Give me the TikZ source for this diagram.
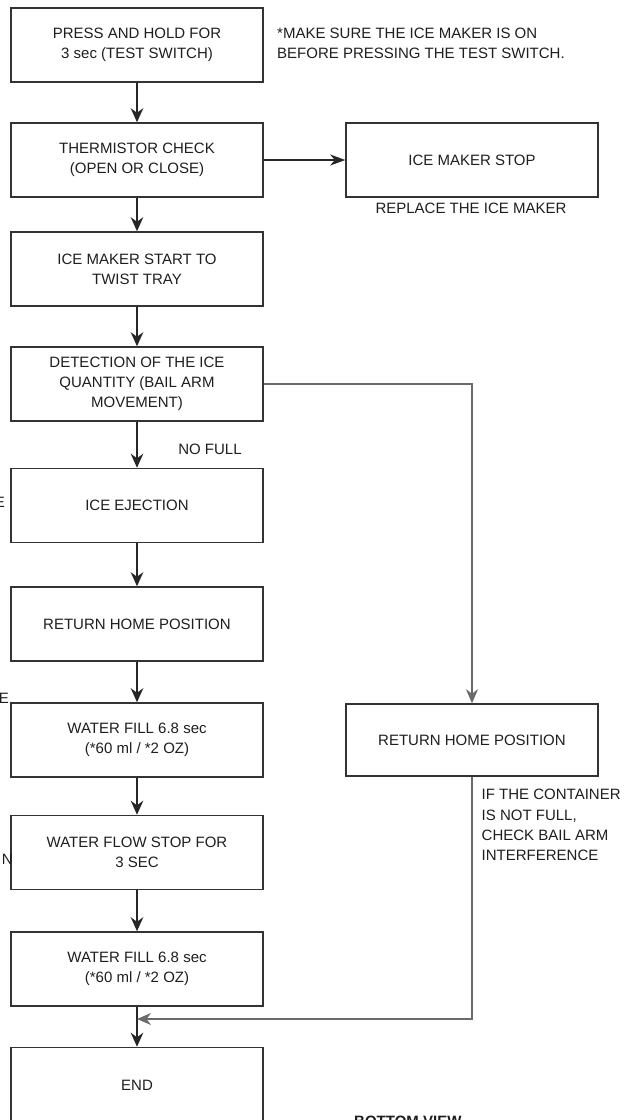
\documentclass[tikz,border=0pt]{standalone}
\usepackage{fontspec}
\setmainfont{Liberation Sans}
\usetikzlibrary{arrows.meta}
\definecolor{boxc}{HTML}{333333}
\definecolor{arrc}{HTML}{262626}
\definecolor{loopc}{HTML}{6A6A6A}
\definecolor{txtc}{HTML}{1E1E1E}
\newcommand{\txtf}{\fontsize{15}{20.3}\selectfont}
\begin{document}
\begin{tikzpicture}[x=1pt,y=-1pt,
  stepbox/.style={draw=boxc, line width=1.5pt, minimum width=252pt, minimum height=74pt,
    inner sep=0pt, align=center, font=\txtf, text=txtc},
  flow/.style={draw=arrc, line width=1.8pt, -{Stealth[length=14pt,width=12.5pt,inset=4.5pt]}},
  side/.style={draw=arrc, line width=1.2pt, -{Stealth[length=15pt,width=11pt,inset=4.5pt]}},
  loopline/.style={draw=loopc, line width=1.3pt, -{Stealth[length=14pt,width=12pt,inset=4.5pt]}},
  note/.style={font=\txtf, text=txtc, inner sep=0pt}]
\useasboundingbox (0,0) rectangle (624,1120);
\fill[white] (0,0) rectangle (624,1120);

% left column
\node[stepbox] (b1) at (137,45) {PRESS AND HOLD FOR\\3 sec (TEST SWITCH)};
\node[stepbox] (b2) at (137,160) {THERMISTOR CHECK\\(OPEN OR CLOSE)};
\node[stepbox] (b3) at (137,269) {ICE MAKER START TO\\TWIST TRAY};
\node[stepbox] (b4) at (137,384) {DETECTION OF THE ICE\\QUANTITY (BAIL ARM\\MOVEMENT)};
\node[stepbox] (b5) at (137,505.5) {ICE EJECTION};
\node[stepbox] (b6) at (137,624) {RETURN HOME POSITION};
\node[stepbox] (b7) at (137,740) {WATER FILL 6.8 sec\\(*60 ml / *2 OZ)};
\node[stepbox] (b8) at (137,852.5) {WATER FLOW STOP FOR\\3 SEC};
\node[stepbox] (b9) at (137,969) {WATER FILL 6.8 sec\\(*60 ml / *2 OZ)};
\node[stepbox, minimum height=75pt] (b10) at (137,1085) {END};

% right column
\node[stepbox] (r1) at (472,160) {ICE MAKER STOP};
\node[stepbox, minimum height=72pt] (r2) at (472,740) {RETURN HOME POSITION};

% texts
\node[note, anchor=west, align=left] (n1) at (277,43) {*MAKE SURE THE ICE MAKER IS ON\\BEFORE PRESSING THE TEST SWITCH.};
\node[note] (n2) at (471,208) {REPLACE THE ICE MAKER};
\node[note] (n3) at (210,449) {NO FULL};
\node[note, anchor=west, align=left] (n4) at (481.5,825) {IF THE CONTAINER\\IS NOT FULL,\\CHECK BAIL ARM\\INTERFERENCE};
\node[note, anchor=base east] (fe1) at (5,507) {E};
\node[note, anchor=base east] (fe2) at (9,703) {E};
\node[note, anchor=base east] (fn) at (13,864) {N};
\node[note, anchor=base west, font=\txtf\bfseries] (bv) at (354,1126) {BOTTOM VIEW};

% connectors
\draw[flow] (b1) -- (b2);
\draw[flow] (b2) -- (b3);
\draw[flow] (b3) -- (b4);
\draw[flow] (b4) -- (b5);
\draw[flow] (b5) -- (b6);
\draw[flow] (b6) -- (b7);
\draw[flow] (b7) -- (b8);
\draw[flow] (b8) -- (b9);
\draw[flow] (b9) -- (b10);
\draw[side] (b2) -- (r1);

\coordinate (c1) at (r2.north |- b4.east);
\draw[loopline] (b4.east) -- (c1) -- (r2.north);
\coordinate (c2) at (472,1019);
\coordinate (c3) at (137,1019);
\draw[loopline] (r2.south) -- (c2) -- (c3);
\end{tikzpicture}
\end{document}
